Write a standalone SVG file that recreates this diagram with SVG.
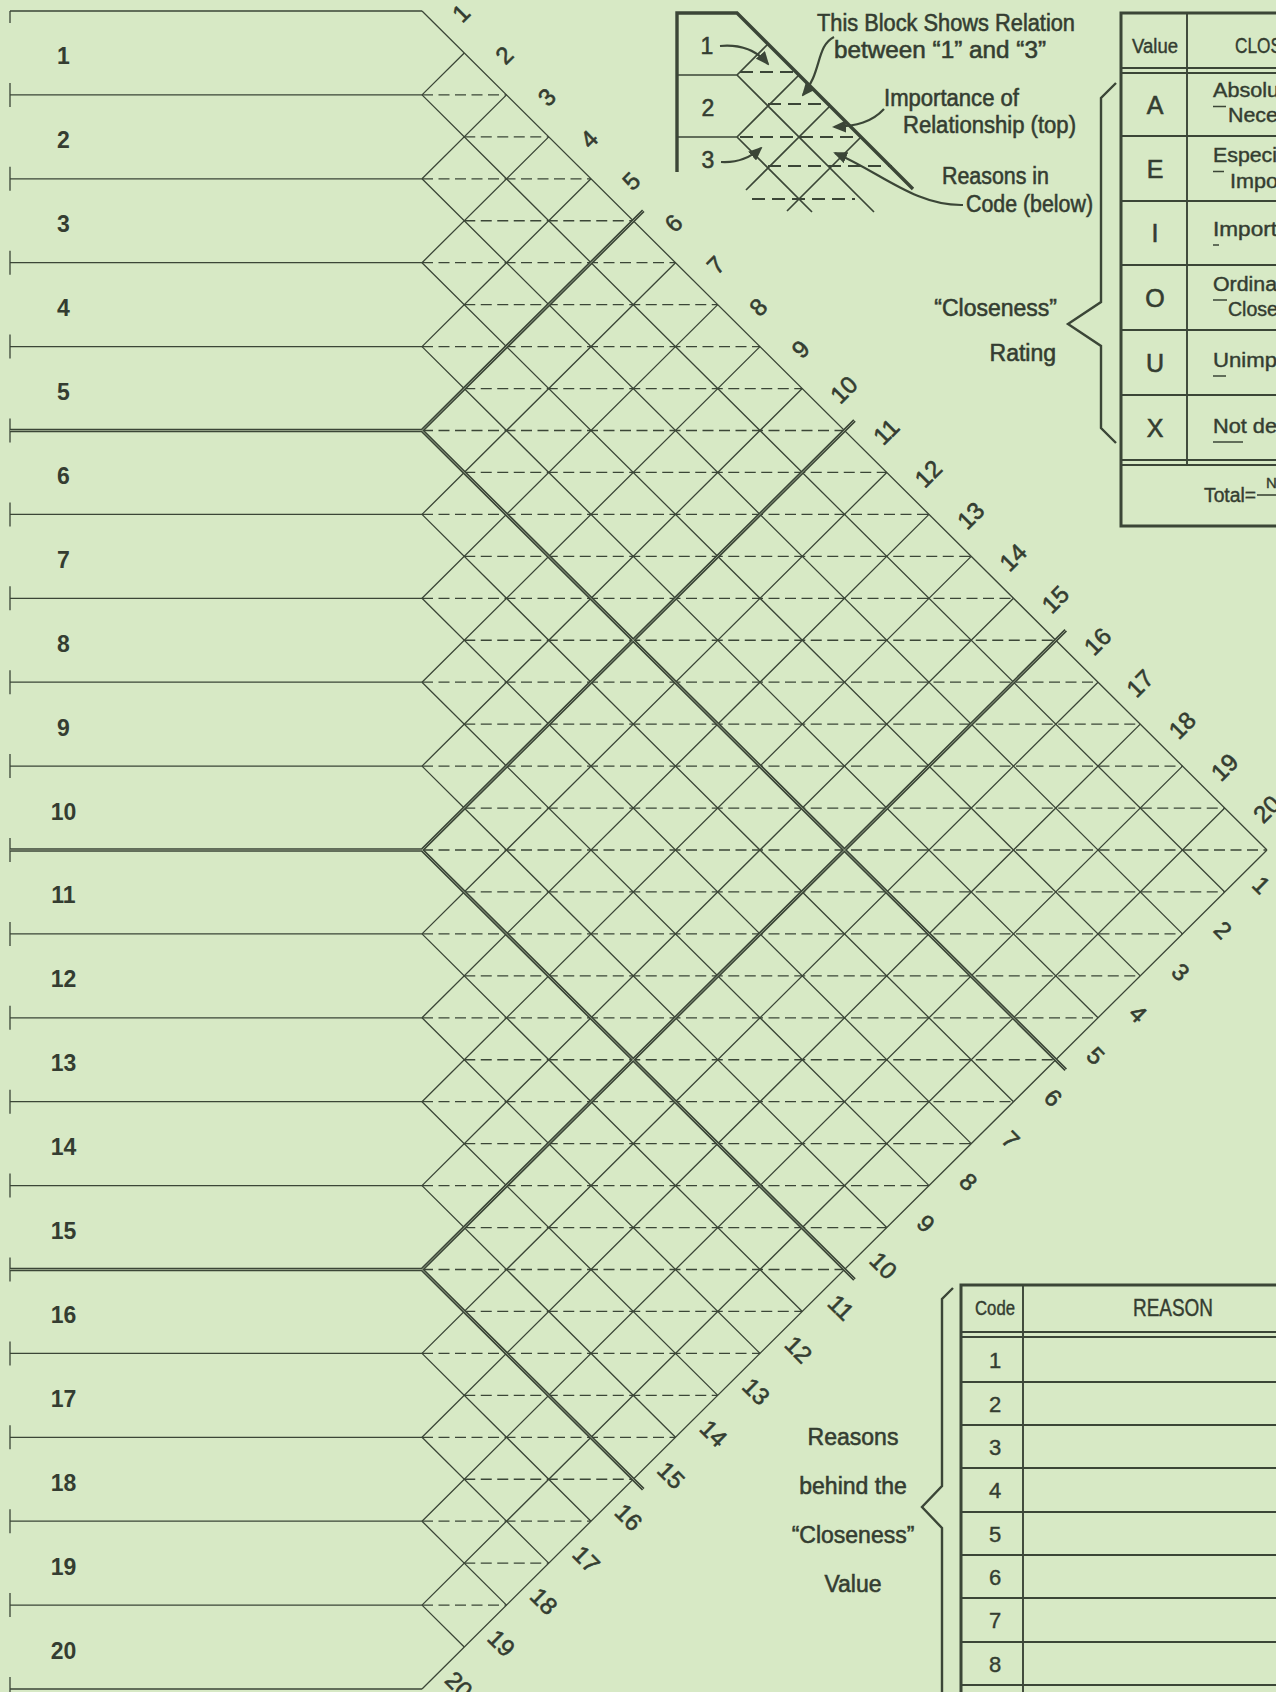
<svg xmlns="http://www.w3.org/2000/svg" width="1276" height="1692" viewBox="0 0 1276 1692">
<defs>
<style>
.ln{fill:none;stroke:#3b4637;stroke-width:1.3}
.tk{fill:none;stroke:#3b4637;stroke-width:3.6}
.tkc{fill:none;stroke:#d7e9c5;stroke-width:0.9;opacity:0.6}
.ds{fill:none;stroke:#3b4637;stroke-width:1.3;stroke-dasharray:11 5.5}
.lgl{fill:none;stroke:#3b4637;stroke-width:1.7}
.lgk{fill:none;stroke:#3b4637;stroke-width:3.4}
.lgd{fill:none;stroke:#3b4637;stroke-width:2;stroke-dasharray:13 7}
.arr{fill:none;stroke:#3b4637;stroke-width:2.2;marker-end:url(#ah)}
.tb{fill:none;stroke:#3b4637;stroke-width:1.9}
.tbk{fill:none;stroke:#3b4637;stroke-width:3}
.br{fill:none;stroke:#3b4637;stroke-width:2.4}
text{font-family:"Liberation Sans",Arial,sans-serif;fill:#343d31}
.rl{font-size:23px;font-weight:bold;text-anchor:middle}
.gl{font-size:24px;text-anchor:middle;stroke:#343d31;stroke-width:0.6}
.lt{font-size:23px;stroke:#343d31;stroke-width:0.55}
.tt{font-size:19.5px;stroke:#343d31;stroke-width:0.4}
.tc{text-anchor:middle}
.te{text-anchor:end}
.big{font-size:25px;text-anchor:middle;stroke:#343d31;stroke-width:0.6}
.num{font-size:22px;text-anchor:middle;stroke:#343d31;stroke-width:0.4}
</style>
<marker id="ah" markerUnits="userSpaceOnUse" markerWidth="14" markerHeight="12" refX="12" refY="6" orient="auto"><path d="M0,0 L14,6 L0,12 Z" fill="#3b4637"/></marker>
</defs>
<rect x="0" y="0" width="1276" height="1692" fill="#d7e9c5"/>

<g id="connectors">
<path class="ln" d="M10,11H422 M10,94.9H422 M10,178.8H422 M10,262.7H422 M10,346.6H422 M10,514.4H422 M10,598.3H422 M10,682.2H422 M10,766.1H422 M10,933.9H422 M10,1017.8H422 M10,1101.7H422 M10,1185.6H422 M10,1353.4H422 M10,1437.3H422 M10,1521.2H422 M10,1605.1H422 M10,1689H422"/>
<path class="ln" d="M10,11V23 M10,82.9V106.9 M10,166.8V190.8 M10,250.7V274.7 M10,334.6V358.6 M10,418.5V442.5 M10,502.4V526.4 M10,586.3V610.3 M10,670.2V694.2 M10,754.1V778.1 M10,838V862 M10,921.9V945.9 M10,1005.8V1029.8 M10,1089.7V1113.7 M10,1173.6V1197.6 M10,1257.5V1281.5 M10,1341.4V1365.4 M10,1425.3V1449.3 M10,1509.2V1533.2 M10,1593.1V1617.1 M10,1677V1692"/>
<path class="ln" d="M422,11L1267,850 M422,94.9L1224.75,891.95 M422,178.8L1182.5,933.9 M422,262.7L1140.25,975.85 M422,346.6L1098,1017.8 M422,514.4L1013.5,1101.7 M422,598.3L971.25,1143.65 M422,682.2L929,1185.6 M422,766.1L886.75,1227.55 M422,933.9L802.25,1311.45 M422,1017.8L760,1353.4 M422,1101.7L717.75,1395.35 M422,1185.6L675.5,1437.3 M422,1353.4L591,1521.2 M422,1437.3L548.75,1563.15 M422,1521.2L506.5,1605.1 M422,1605.1L464.25,1647.05"/>
<path class="ln" d="M422,94.9L464.25,52.95 M422,178.8L506.5,94.9 M422,262.7L548.75,136.85 M422,346.6L591,178.8 M422,514.4L675.5,262.7 M422,598.3L717.75,304.65 M422,682.2L760,346.6 M422,766.1L802.25,388.55 M422,933.9L886.75,472.45 M422,1017.8L929,514.4 M422,1101.7L971.25,556.35 M422,1185.6L1013.5,598.3 M422,1353.4L1098,682.2 M422,1437.3L1140.25,724.15 M422,1521.2L1182.5,766.1 M422,1605.1L1224.75,808.05 M422,1689L1267,850"/>
<path class="ds" d="M422,94.9H506.5 M464.25,136.85H548.75 M422,178.8H591 M464.25,220.75H633.25 M422,262.7H675.5 M464.25,304.65H717.75 M422,346.6H760 M464.25,388.55H802.25 M422,430.5H844.5 M464.25,472.45H886.75 M422,514.4H929 M464.25,556.35H971.25 M422,598.3H1013.5 M464.25,640.25H1055.75 M422,682.2H1098 M464.25,724.15H1140.25 M422,766.1H1182.5 M464.25,808.05H1224.75 M422,850H1267 M464.25,891.95H1224.75 M422,933.9H1182.5 M464.25,975.85H1140.25 M422,1017.8H1098 M464.25,1059.75H1055.75 M422,1101.7H1013.5 M464.25,1143.65H971.25 M422,1185.6H929 M464.25,1227.55H886.75 M422,1269.5H844.5 M464.25,1311.45H802.25 M422,1353.4H760 M464.25,1395.35H717.75 M422,1437.3H675.5 M464.25,1479.25H633.25 M422,1521.2H591 M464.25,1563.15H548.75 M422,1605.1H506.5"/>
<path class="tk" d="M10,430.5H422 M10,850H422 M10,1269.5H422 M422,430.5L643.3,210.8 M422,850L854.5,420.5 M422,1269.5L1065.75,630.25 M422,430.5L1065.75,1069.75 M422,850L854.5,1279.5 M422,1269.5L643.25,1489.25"/>
<path class="tkc" d="M10,430.5H422 M10,850H422 M10,1269.5H422 M422,430.5L643.3,210.8 M422,850L854.5,420.5 M422,1269.5L1065.75,630.25 M422,430.5L1065.75,1069.75 M422,850L854.5,1279.5 M422,1269.5L643.25,1489.25"/>
</g>

<g id="rows">
<g id="row-1"><text class="rl" x="63.5" y="64.4">1</text></g>
<g id="row-2"><text class="rl" x="63.5" y="148.3">2</text></g>
<g id="row-3"><text class="rl" x="63.5" y="232.2">3</text></g>
<g id="row-4"><text class="rl" x="63.5" y="316.1">4</text></g>
<g id="row-5"><text class="rl" x="63.5" y="400">5</text></g>
<g id="row-6"><text class="rl" x="63.5" y="483.9">6</text></g>
<g id="row-7"><text class="rl" x="63.5" y="567.8">7</text></g>
<g id="row-8"><text class="rl" x="63.5" y="651.7">8</text></g>
<g id="row-9"><text class="rl" x="63.5" y="735.6">9</text></g>
<g id="row-10"><text class="rl" x="63.5" y="819.5">10</text></g>
<g id="row-11"><text class="rl" x="63.5" y="903.4">11</text></g>
<g id="row-12"><text class="rl" x="63.5" y="987.3">12</text></g>
<g id="row-13"><text class="rl" x="63.5" y="1071.2">13</text></g>
<g id="row-14"><text class="rl" x="63.5" y="1155.1">14</text></g>
<g id="row-15"><text class="rl" x="63.5" y="1239">15</text></g>
<g id="row-16"><text class="rl" x="63.5" y="1322.9">16</text></g>
<g id="row-17"><text class="rl" x="63.5" y="1406.8">17</text></g>
<g id="row-18"><text class="rl" x="63.5" y="1490.7">18</text></g>
<g id="row-19"><text class="rl" x="63.5" y="1574.6">19</text></g>
<g id="row-20"><text class="rl" x="63.5" y="1658.5">20</text></g>
</g>

<g id="upper-labels">
<text class="gl" transform="translate(461,13) rotate(-45)" y="8.5">1</text>
<text class="gl" transform="translate(504.3,55) rotate(-45)" y="8.5">2</text>
<text class="gl" transform="translate(546.6,97) rotate(-45)" y="8.5">3</text>
<text class="gl" transform="translate(588.9,139) rotate(-45)" y="8.5">4</text>
<text class="gl" transform="translate(631.2,181) rotate(-45)" y="8.5">5</text>
<text class="gl" transform="translate(673.5,223) rotate(-45)" y="8.5">6</text>
<text class="gl" transform="translate(715.8,265) rotate(-45)" y="8.5">7</text>
<text class="gl" transform="translate(758.1,307) rotate(-45)" y="8.5">8</text>
<text class="gl" transform="translate(800.4,349) rotate(-45)" y="8.5">9</text>
<text class="gl" transform="translate(843.7,389.55) rotate(-45)" y="8.5">10</text>
<text class="gl" transform="translate(886,431.5) rotate(-45)" y="8.5">11</text>
<text class="gl" transform="translate(928.3,473.45) rotate(-45)" y="8.5">12</text>
<text class="gl" transform="translate(970.6,515.4) rotate(-45)" y="8.5">13</text>
<text class="gl" transform="translate(1012.9,557.35) rotate(-45)" y="8.5">14</text>
<text class="gl" transform="translate(1055.2,599.3) rotate(-45)" y="8.5">15</text>
<text class="gl" transform="translate(1097.5,641.25) rotate(-45)" y="8.5">16</text>
<text class="gl" transform="translate(1139.8,683.2) rotate(-45)" y="8.5">17</text>
<text class="gl" transform="translate(1182.1,725.15) rotate(-45)" y="8.5">18</text>
<text class="gl" transform="translate(1224.4,767.1) rotate(-45)" y="8.5">19</text>
<text class="gl" transform="translate(1266.7,809.05) rotate(-45)" y="8.5">20</text>
</g>

<g id="lower-labels">
<text class="gl" transform="translate(1261.5,885) rotate(45)" y="8.5">1</text>
<text class="gl" transform="translate(1223.1,929.9) rotate(45)" y="8.5">2</text>
<text class="gl" transform="translate(1180.65,971.85) rotate(45)" y="8.5">3</text>
<text class="gl" transform="translate(1138.2,1013.8) rotate(45)" y="8.5">4</text>
<text class="gl" transform="translate(1095.75,1055.75) rotate(45)" y="8.5">5</text>
<text class="gl" transform="translate(1053.3,1097.7) rotate(45)" y="8.5">6</text>
<text class="gl" transform="translate(1010.85,1139.65) rotate(45)" y="8.5">7</text>
<text class="gl" transform="translate(968.4,1181.6) rotate(45)" y="8.5">8</text>
<text class="gl" transform="translate(925.95,1223.55) rotate(45)" y="8.5">9</text>
<text class="gl" transform="translate(883.5,1265.5) rotate(45)" y="8.5">10</text>
<text class="gl" transform="translate(841.05,1307.45) rotate(45)" y="8.5">11</text>
<text class="gl" transform="translate(798.6,1349.4) rotate(45)" y="8.5">12</text>
<text class="gl" transform="translate(756.15,1391.35) rotate(45)" y="8.5">13</text>
<text class="gl" transform="translate(713.7,1433.3) rotate(45)" y="8.5">14</text>
<text class="gl" transform="translate(671.25,1475.25) rotate(45)" y="8.5">15</text>
<text class="gl" transform="translate(628.8,1517.2) rotate(45)" y="8.5">16</text>
<text class="gl" transform="translate(586.35,1559.15) rotate(45)" y="8.5">17</text>
<text class="gl" transform="translate(543.9,1601.1) rotate(45)" y="8.5">18</text>
<text class="gl" transform="translate(501.45,1643.05) rotate(45)" y="8.5">19</text>
<text class="gl" transform="translate(459,1685) rotate(45)" y="8.5">20</text>
</g>

<g id="legend">
<path class="lgk" d="M677,172V13H737L913,189"/>
<path class="lgl" d="M677,75H737 M677,137H737 M737,75L768,44 M737,137L799,75 M746,190L830,106 M787,211L861,137 M737,75L874,212 M737,137L812,212"/>
<path class="lgd" d="M740,72H799 M768,104H830 M740,137H861 M768,166H892 M752,199H855"/>
<text class="lt tc" x="707" y="54">1</text>
<text class="lt tc" x="708" y="116">2</text>
<text class="lt tc" x="708" y="168">3</text>
<path class="arr" d="M720,46C742,44 758,52 768,64"/>
<path class="arr" d="M721,162C738,163 750,158 761,148"/>
<path class="arr" d="M834,37C816,46 822,72 803,95"/>
<path class="arr" d="M884,109C872,122 857,126 834,127"/>
<path class="arr" d="M963,205C915,206 880,172 835,153"/>
<text class="lt" x="817" y="31" textLength="258" lengthAdjust="spacingAndGlyphs">This Block Shows Relation</text>
<text class="lt" x="834" y="58" textLength="212" lengthAdjust="spacingAndGlyphs">between “1” and “3”</text>
<text class="lt" x="884" y="106" textLength="135" lengthAdjust="spacingAndGlyphs">Importance of</text>
<text class="lt" x="903" y="133" textLength="173" lengthAdjust="spacingAndGlyphs">Relationship (top)</text>
<text class="lt" x="942" y="184" textLength="107" lengthAdjust="spacingAndGlyphs">Reasons in</text>
<text class="lt" x="966" y="212" textLength="127" lengthAdjust="spacingAndGlyphs">Code (below)</text>
</g>

<g id="closeness-rating">
<path class="br" d="M1116,83L1101,98V302L1068,324L1101,346V428L1116,443"/>
<text class="lt te" x="1057" y="316">“Closeness”</text>
<text class="lt te" x="1056" y="361">Rating</text>
</g>

<g id="closeness-table">
<path class="tbk" d="M1276,13H1121V526H1276"/>
<path class="tb" d="M1187,13V465 M1121,68H1276 M1121,73H1276 M1121,136H1276 M1121,201H1276 M1121,265H1276 M1121,330H1276 M1121,395H1276 M1121,460H1276 M1121,465H1276"/>
<text class="tt tc" x="1155" y="53" textLength="46" lengthAdjust="spacingAndGlyphs">Value</text>
<text class="tt" x="1235" y="53" style="font-size:22.5px" textLength="47" lengthAdjust="spacingAndGlyphs">CLOS</text>
<text class="big" x="1155" y="113.5">A</text>
<text class="big" x="1155" y="177.5">E</text>
<text class="big" x="1155" y="242">I</text>
<text class="big" x="1155" y="306.5">O</text>
<text class="big" x="1155" y="371.5">U</text>
<text class="big" x="1155" y="436.5">X</text>
<text class="tt" x="1213" y="97" textLength="66" lengthAdjust="spacingAndGlyphs">Absolu</text>
<text class="tt" x="1228" y="122" textLength="50" lengthAdjust="spacingAndGlyphs">Nece</text>
<text class="tt" x="1213" y="162" textLength="64" lengthAdjust="spacingAndGlyphs">Especi</text>
<text class="tt" x="1230" y="188" textLength="48" lengthAdjust="spacingAndGlyphs">Impo</text>
<text class="tt" x="1213" y="236" textLength="64" lengthAdjust="spacingAndGlyphs">Import</text>
<text class="tt" x="1213" y="291" textLength="64" lengthAdjust="spacingAndGlyphs">Ordina</text>
<text class="tt" x="1228" y="316" textLength="50" lengthAdjust="spacingAndGlyphs">Close</text>
<text class="tt" x="1213" y="367" textLength="64" lengthAdjust="spacingAndGlyphs">Unimp</text>
<text class="tt" x="1213" y="433" textLength="64" lengthAdjust="spacingAndGlyphs">Not de</text>
<path class="tb" style="stroke-width:1.6" d="M1213,106.5H1226 M1213,171.5H1224 M1213,245H1219 M1213,300H1227 M1213,376H1226 M1213,442H1243"/>
<text class="tt" x="1204" y="502" textLength="52" lengthAdjust="spacingAndGlyphs">Total=</text>
<path class="tb" style="stroke-width:1.6" d="M1257,495H1276"/>
<text class="tt" x="1266" y="488" style="font-size:15px">N</text>
</g>

<g id="reasons-label">
<path class="br" d="M953,1288L942,1299V1486L922,1507L942,1528V1692"/>
<text class="lt tc" x="853" y="1445">Reasons</text>
<text class="lt tc" x="853" y="1494">behind the</text>
<text class="lt tc" x="853" y="1543">“Closeness”</text>
<text class="lt tc" x="853" y="1592">Value</text>
</g>

<g id="reason-table">
<path class="tbk" d="M1276,1285H961V1692"/>
<path class="tb" d="M1023,1285V1692 M961,1332H1276 M961,1337H1276 M961,1382H1276 M961,1425H1276 M961,1468H1276 M961,1512H1276 M961,1555H1276 M961,1598H1276 M961,1642H1276 M961,1685H1276"/>
<text class="tt tc" x="995" y="1315" textLength="40" lengthAdjust="spacingAndGlyphs">Code</text>
<text class="tt tc" x="1173" y="1316" style="font-size:23px" textLength="80" lengthAdjust="spacingAndGlyphs">REASON</text>
<text class="num" x="995" y="1367.5">1</text>
<text class="num" x="995" y="1411.5">2</text>
<text class="num" x="995" y="1454.5">3</text>
<text class="num" x="995" y="1498">4</text>
<text class="num" x="995" y="1541.5">5</text>
<text class="num" x="995" y="1584.5">6</text>
<text class="num" x="995" y="1628">7</text>
<text class="num" x="995" y="1671.5">8</text>
</g>
</svg>
